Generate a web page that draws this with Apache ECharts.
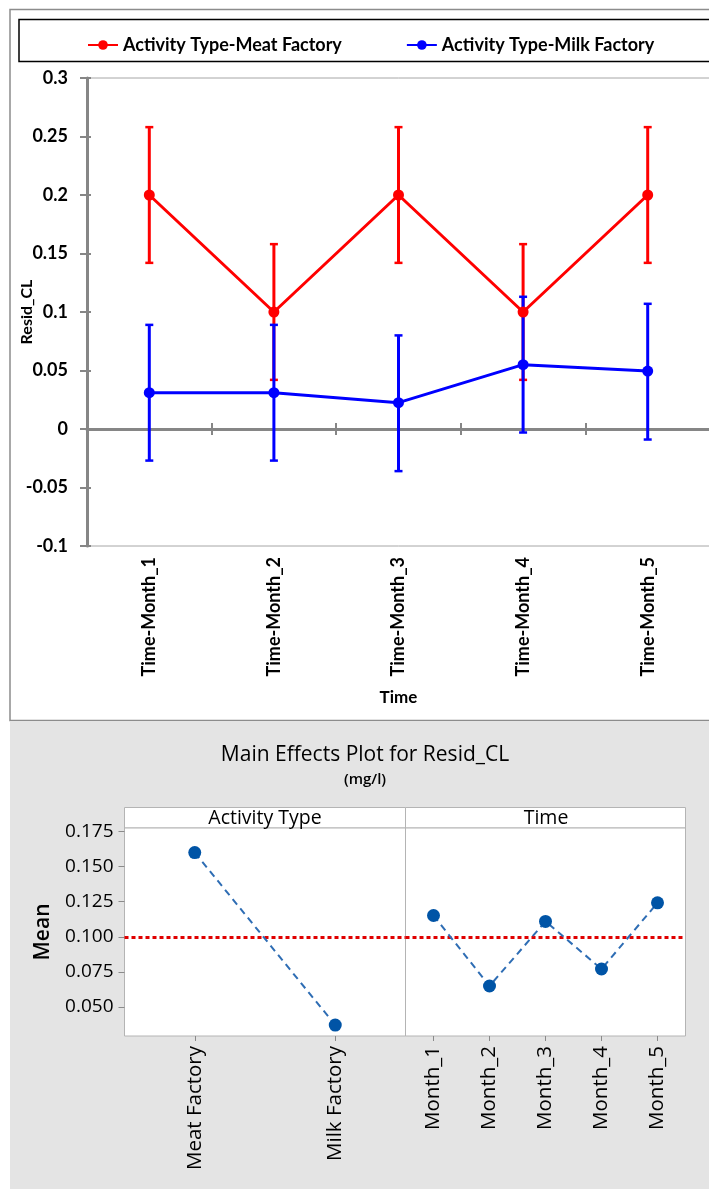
<!DOCTYPE html>
<html>
<head>
<meta charset="utf-8">
<script src="https://cdn.jsdelivr.net/npm/echarts@6/dist/echarts.min.js"></script>
<style>
html,body{margin:0;padding:0;background:#fff;}
#chart{width:709px;height:1189px;}
</style>
</head>
<body>
<div id="chart"></div>
<script>
// ---- Interaction plot data (top) ----
const timeCategories = ['Time-Month_1', 'Time-Month_2', 'Time-Month_3', 'Time-Month_4', 'Time-Month_5'];
const meatName = 'Activity Type-Meat Factory';
const milkName = 'Activity Type-Milk Factory';
const meatMean = [0.2, 0.1, 0.2, 0.1, 0.2];
const meatLow  = [0.142, 0.042, 0.142, 0.042, 0.142];
const meatHigh = [0.258, 0.158, 0.258, 0.158, 0.258];
const milkMean = [0.031, 0.031, 0.0225, 0.055, 0.0495];
const milkLow  = [-0.027, -0.027, -0.036, -0.003, -0.009];
const milkHigh = [0.089, 0.089, 0.080, 0.113, 0.107];

// ---- Main effects plot data (bottom) ----
const activityCategories = ['Meat Factory', 'Milk Factory'];
const activityMeans = [0.160, 0.0372];
const monthCategories = ['Month_1', 'Month_2', 'Month_3', 'Month_4', 'Month_5'];
const monthMeans = [0.1152, 0.065, 0.111, 0.0771, 0.1242];
const grandMean = 0.0984;
const meanTicks = [0.050, 0.075, 0.100, 0.125, 0.150, 0.175];

const topFont = 'Lato';
const botFont = '"Open Sans"';
const axisGray = '#868686';

function errRender(color) {
  return function (params, api) {
    const x = api.value(0);
    const pLo = api.coord([x, api.value(1)]);
    const pHi = api.coord([x, api.value(2)]);
    const cw = 4;
    return {
      type: 'group',
      children: [
        {type: 'line', shape: {x1: pLo[0], y1: pLo[1], x2: pHi[0], y2: pHi[1]}, style: {stroke: color, lineWidth: 3}},
        {type: 'line', shape: {x1: pLo[0] - cw, y1: pLo[1], x2: pLo[0] + cw, y2: pLo[1]}, style: {stroke: color, lineWidth: 2.5}},
        {type: 'line', shape: {x1: pHi[0] - cw, y1: pHi[1], x2: pHi[0] + cw, y2: pHi[1]}, style: {stroke: color, lineWidth: 2.5}}
      ]
    };
  };
}

const meatErr = meatMean.map((v, i) => [i, meatLow[i], meatHigh[i]]);
const milkErr = milkMean.map((v, i) => [i, milkLow[i], milkHigh[i]]);

const chart = echarts.init(document.getElementById('chart'), null, {renderer: 'canvas'});

const option = {
  animation: false,
  backgroundColor: '#ffffff',
  graphic: [
    {type: 'rect', z: -10, shape: {x: 10, y: 9.5, width: 720, height: 711}, style: {fill: '#ffffff', stroke: '#8c8c8c', lineWidth: 1.5}},
    {type: 'rect', z: -10, shape: {x: 10, y: 721, width: 720, height: 470}, style: {fill: '#e4e4e4'}},
    {type: 'rect', z: -9, shape: {x: 19, y: 19.5, width: 720, height: 42}, style: {fill: '#ffffff', stroke: '#000000', lineWidth: 1.5}},
    {type: 'rect', z: -9, shape: {x: 124.5, y: 807.5, width: 281, height: 20.5}, style: {fill: '#ffffff', stroke: '#b4b4b4', lineWidth: 1}},
    {type: 'rect', z: -9, shape: {x: 405.5, y: 807.5, width: 280, height: 20.5}, style: {fill: '#ffffff', stroke: '#b4b4b4', lineWidth: 1}},
    {type: 'text', z: 10, x: 265, y: 818, style: {text: 'Activity Type', fontFamily: botFont, fontSize: 19.5, fill: '#000', align: 'center', verticalAlign: 'middle'}},
    {type: 'text', z: 10, x: 546, y: 818, style: {text: 'Time', fontFamily: botFont, fontSize: 19.5, fill: '#000', align: 'center', verticalAlign: 'middle'}},
    {type: 'text', z: 10, x: 365, y: 755, style: {text: 'Main Effects Plot for Resid_CL', fontFamily: botFont, fontSize: 21, fill: '#000', align: 'center', verticalAlign: 'middle'}},
    {type: 'text', z: 10, x: 365, y: 780, style: {text: '(mg/l)', fontFamily: botFont, fontSize: 15, fontWeight: 600, fill: '#000', align: 'center', verticalAlign: 'middle'}}
  ],
  legend: {
    data: [meatName, milkName],
    left: 82, top: 31,
    itemWidth: 30, itemHeight: 12, itemGap: 64,
    textStyle: {fontFamily: topFont, fontWeight: 'bold', fontSize: 18, color: '#000'}
  },
  grid: [
    {left: 87, top: 78, width: 623, height: 468, show: true, borderColor: '#a6a6a6', borderWidth: 1, backgroundColor: 'transparent', containLabel: false, outerBoundsMode: 'none'},
    {left: 124.5, top: 828, width: 281, height: 208, show: true, borderColor: '#b4b4b4', borderWidth: 1, backgroundColor: '#ffffff', containLabel: false, outerBoundsMode: 'none'},
    {left: 405.5, top: 828, width: 280, height: 208, show: true, borderColor: '#b4b4b4', borderWidth: 1, backgroundColor: '#ffffff', containLabel: false, outerBoundsMode: 'none'}
  ],
  xAxis: [
    {
      gridIndex: 0, type: 'category', data: timeCategories, position: 'bottom',
      axisLine: {show: false, onZero: false}, axisTick: {show: false},
      axisLabel: {rotate: 90, margin: 11, fontFamily: topFont, fontWeight: 'bold', fontSize: 18, color: '#000'},
      name: 'Time', nameLocation: 'middle', nameGap: 143,
      nameTextStyle: {fontFamily: topFont, fontWeight: 'bold', fontSize: 17, color: '#000'}
    },
    {
      gridIndex: 0, type: 'category', data: timeCategories, position: 'bottom',
      axisLine: {show: true, onZero: true, lineStyle: {color: axisGray, width: 3}},
      axisTick: {show: true, length: 6, lineStyle: {color: axisGray, width: 2}},
      axisLabel: {show: false}
    },
    {
      gridIndex: 1, type: 'category', data: activityCategories, boundaryGap: true,
      axisLine: {show: false},
      axisTick: {show: true, alignWithLabel: true, length: 5, lineStyle: {color: '#8a8a8a'}},
      axisLabel: {rotate: 90, margin: 10, fontFamily: botFont, fontSize: 20.5, color: '#000'}
    },
    {
      gridIndex: 2, type: 'category', data: monthCategories, boundaryGap: true,
      axisLine: {show: false},
      axisTick: {show: true, alignWithLabel: true, length: 5, lineStyle: {color: '#8a8a8a'}},
      axisLabel: {rotate: 90, margin: 10, fontFamily: botFont, fontSize: 20.5, color: '#000'}
    },
    {
      gridIndex: 0, type: 'category', data: timeCategories, position: 'bottom',
      axisLine: {show: false, onZero: true},
      axisTick: {show: true, inside: true, length: 6, lineStyle: {color: axisGray, width: 2}},
      axisLabel: {show: false}
    }
  ],
  yAxis: [
    {
      gridIndex: 0, type: 'value', min: -0.1, max: 0.3, interval: 0.05,
      axisLine: {show: true, onZero: false, lineStyle: {color: axisGray, width: 3}},
      axisTick: {show: true, length: 7, lineStyle: {color: axisGray, width: 2}},
      splitLine: {show: false},
      axisLabel: {margin: 19, fontFamily: topFont, fontWeight: 'bold', fontSize: 18, color: '#000',
        formatter: v => String(parseFloat(v.toFixed(2)))},
      name: 'Resid_CL', nameLocation: 'middle', nameGap: 52, nameMoveOverlap: false,
      nameTextStyle: {fontFamily: topFont, fontWeight: 'bold', fontSize: 16, color: '#000'}
    },
    {
      gridIndex: 1, type: 'value', min: 0.0294, max: 0.1775,
      axisLine: {show: false},
      axisTick: {show: true, length: 6, customValues: meanTicks, lineStyle: {color: '#8a8a8a'}},
      splitLine: {show: false},
      axisLabel: {margin: 11, customValues: meanTicks, fontFamily: botFont, fontSize: 19, color: '#000',
        formatter: v => v.toFixed(3)},
      name: 'Mean', nameLocation: 'middle', nameGap: 71,
      nameTextStyle: {fontFamily: botFont, fontWeight: 600, fontSize: 21, color: '#000'}
    },
    {
      gridIndex: 2, type: 'value', min: 0.0294, max: 0.1775, show: false,
      splitLine: {show: false}
    },
    {
      gridIndex: 0, type: 'value', min: -0.1, max: 0.3, interval: 0.05, position: 'left',
      axisLine: {show: false, onZero: false},
      axisTick: {show: true, inside: true, length: 4, lineStyle: {color: axisGray, width: 2}},
      axisLabel: {show: false}, splitLine: {show: false}
    }
  ],
  series: [
    {
      name: meatName, type: 'line', xAxisIndex: 0, yAxisIndex: 0, z: 4,
      data: meatMean, symbol: 'circle', symbolSize: 11,
      itemStyle: {color: '#ff0000'}, lineStyle: {color: '#ff0000', width: 3}
    },
    {
      name: milkName, type: 'line', xAxisIndex: 0, yAxisIndex: 0, z: 3,
      data: milkMean, symbol: 'circle', symbolSize: 11,
      itemStyle: {color: '#0000ff'}, lineStyle: {color: '#0000ff', width: 3}
    },
    {
      name: 'meatError', type: 'custom', xAxisIndex: 0, yAxisIndex: 0, z: 1,
      renderItem: errRender('#ff0000'), data: meatErr, encode: {x: 0, y: [1, 2]}
    },
    {
      name: 'milkError', type: 'custom', xAxisIndex: 0, yAxisIndex: 0, z: 2,
      renderItem: errRender('#0000ff'), data: milkErr, encode: {x: 0, y: [1, 2]}
    },
    {
      name: 'Activity Type', type: 'line', xAxisIndex: 2, yAxisIndex: 1, z: 5,
      data: activityMeans, symbol: 'circle', symbolSize: 13,
      itemStyle: {color: '#0054a6'}, lineStyle: {color: '#2e6db4', width: 2, type: [7, 5]},
      markLine: {silent: true, symbol: ['none', 'none'], label: {show: false},
        lineStyle: {color: '#e00000', width: 3, type: [4, 3]}, data: [{yAxis: grandMean}]}
    },
    {
      name: 'Time', type: 'line', xAxisIndex: 3, yAxisIndex: 2, z: 5,
      data: monthMeans, symbol: 'circle', symbolSize: 13,
      itemStyle: {color: '#0054a6'}, lineStyle: {color: '#2e6db4', width: 2, type: [7, 5]},
      markLine: {silent: true, symbol: ['none', 'none'], label: {show: false},
        lineStyle: {color: '#e00000', width: 3, type: [4, 3]}, data: [{yAxis: grandMean}]}
    }
  ]
};
chart.setOption(option);
</script>
</body>
</html>
